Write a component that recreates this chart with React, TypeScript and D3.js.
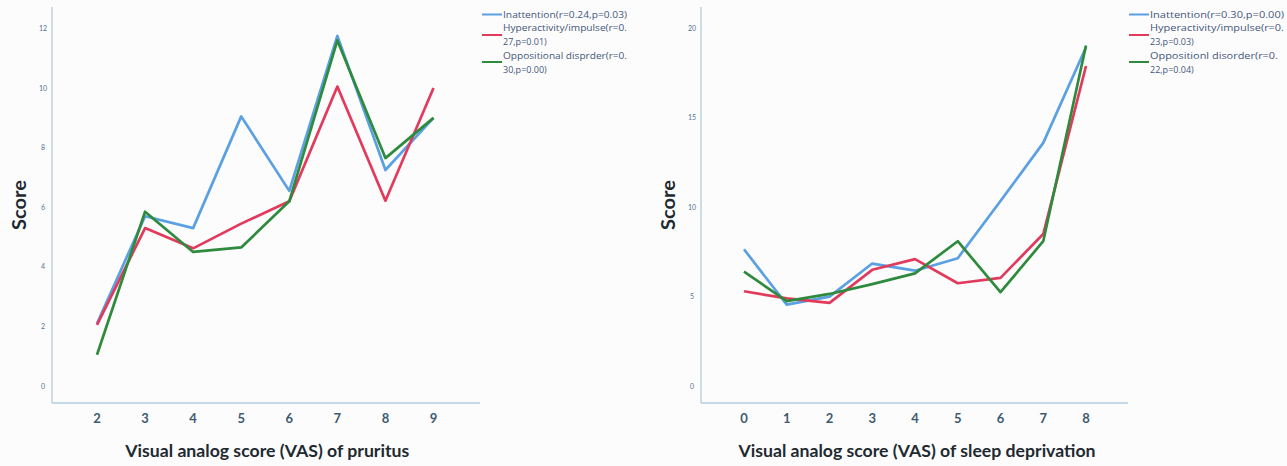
import React from "react";
import * as d3 from "d3";

const seriesNames = ["Inattention", "Hyperactivity/impulse", "Oppositional disorder"];
const colors = ["#5aa0e2", "#e23a5c", "#2e8a3c"];

// Left chart: pruritus
const pruritusX = [2, 3, 4, 5, 6, 7, 8, 9];
const pruritusInattention = [2.1, 5.7, 5.3, 9.05, 6.55, 11.75, 7.25, 9.0];
const pruritusHyper = [2.05, 5.3, 4.62, 5.45, 6.2, 10.05, 6.22, 10.0];
const pruritusOpp = [1.05, 5.85, 4.5, 4.65, 6.2, 11.6, 7.65, 9.0];
const pruritusYTicks = [0, 2, 4, 6, 8, 10, 12];
const pruritusLegend = [
  ["Inattention(r=0.24,p=0.03)"],
  ["Hyperactivity/impulse(r=0.", "27,p=0.01)"],
  ["Oppositional disprder(r=0.", "30,p=0.00)"],
];

// Right chart: sleep deprivation
const sleepX = [0, 1, 2, 3, 4, 5, 6, 7, 8];
const sleepInattention = [7.65, 4.55, 5.0, 6.85, 6.45, 7.15, 10.35, 13.6, 18.95];
const sleepHyper = [5.3, 4.9, 4.65, 6.5, 7.1, 5.75, 6.05, 8.5, 17.9];
const sleepOpp = [6.4, 4.75, 5.15, 5.7, 6.3, 8.1, 5.25, 8.1, 19.05];
const sleepYTicks = [0, 5, 10, 15, 20];
const sleepLegend = [
  ["Inattention(r=0.30,p=0.00)"],
  ["Hyperactivity/impulse(r=0.", "23,p=0.03)"],
  ["Oppositionl disorder(r=0.", "22,p=0.04)"],
];

type PanelProps = {
  xs: number[];
  series: number[][];
  yTicks: number[];
  yMax: number;
  axisX: number;
  axisRight: number;
  xFirst: number;
  xLast: number;
  xLabel: string;
  xLabelWidth: number;
  legend: string[][];
  legendX: number;
  legendWidths: number[];
};

const TOP = 7;
const BASE = 403;
const Y0 = 386;

function Panel(p: PanelProps) {
  const x = d3.scaleLinear().domain([p.xs[0], p.xs[p.xs.length - 1]]).range([p.xFirst, p.xLast]);
  const y = d3.scaleLinear().domain([0, p.yMax]).range([Y0, 28.5]);
  const line = d3
    .line<number>()
    .x((_, i) => x(p.xs[i]))
    .y((d) => y(d));
  const labelCx = (p.xFirst + p.xLast) / 2;
  const lineY = [14.5, 35, 62];
  const textY = [[18], [31, 45], [59, 73]];
  return (
    <g>
      <line x1={p.axisX} x2={p.axisX} y1={TOP} y2={BASE} stroke="#b3cddc" strokeWidth={1.3} />
      <line x1={p.axisX} x2={p.axisRight} y1={BASE} y2={BASE} stroke="#b3cddc" strokeWidth={1.3} />
      {p.yTicks.map((t) => (
        <text
          key={t}
          x={p.axisX - 9}
          y={y(t) + 2.5}
          textAnchor="middle"
          fontSize={7}
          fontFamily="Lato, 'Open Sans', sans-serif"
          fill="#4f7394"
        >
          {t}
        </text>
      ))}
      {p.xs.map((t) => (
        <text
          key={t}
          x={x(t)}
          y={BASE + 19.5}
          textAnchor="middle"
          fontSize={13}
          fontWeight="bold"
          fontFamily="Lato, 'Open Sans', sans-serif"
          fill="#3d5a70"
        >
          {t}
        </text>
      ))}
      <text
        x={labelCx + 2}
        y={457}
        textAnchor="middle"
        fontSize={17}
        fontWeight="bold"
        fontFamily="Lato, 'Open Sans', sans-serif"
        fill="#1f2a30"
        textLength={p.xLabelWidth}
        lengthAdjust="spacingAndGlyphs"
      >
        {p.xLabel}
      </text>
      <text
        transform={`translate(${p.axisX - 26},205) rotate(-90)`}
        textAnchor="middle"
        fontSize={18}
        fontWeight="bold"
        fontFamily="Lato, 'Open Sans', sans-serif"
        fill="#1f2a30"
        textLength={50}
        lengthAdjust="spacingAndGlyphs"
      >
        Score
      </text>
      {p.series.map((s, i) => (
        <path
          key={i}
          d={line(s) || ""}
          fill="none"
          stroke={colors[i]}
          strokeWidth={2.7}
          strokeLinejoin="round"
        />
      ))}
      {p.legend.map((rows, i) => (
        <g key={i}>
          <line
            x1={p.legendX}
            x2={p.legendX + 20}
            y1={lineY[i]}
            y2={lineY[i]}
            stroke={colors[i]}
            strokeWidth={2}
          />
          {rows.map((r, j) => (
            <text
              key={j}
              x={p.legendX + 21}
              y={textY[i][j]}
              fontSize={9}
              fontFamily="'Open Sans', Lato, sans-serif"
              fill="#45577a"
              textLength={j === 0 ? p.legendWidths[i] : undefined}
              lengthAdjust="spacingAndGlyphs"
            >
              {r}
            </text>
          ))}
        </g>
      ))}
    </g>
  );
}

export default function App() {
  return (
    <svg
      width={1287}
      height={466}
      style={{ position: "absolute", left: 0, top: 0, background: "#fcfcfd" }}
    >
      <rect width={1287} height={466} fill="#fcfcfd" />
      <Panel
        xs={pruritusX}
        series={[pruritusInattention, pruritusHyper, pruritusOpp]}
        yTicks={pruritusYTicks}
        yMax={12}
        axisX={52}
        axisRight={480}
        xFirst={97}
        xLast={433.5}
        xLabel="Visual analog score (VAS) of pruritus"
        xLabelWidth={284}
        legend={pruritusLegend}
        legendX={482}
        legendWidths={[124, 124, 124]}
      />
      <Panel
        xs={sleepX}
        series={[sleepInattention, sleepHyper, sleepOpp]}
        yTicks={sleepYTicks}
        yMax={20}
        axisX={701}
        axisRight={1128}
        xFirst={744}
        xLast={1086}
        xLabel="Visual analog score (VAS) of sleep deprivation"
        xLabelWidth={357}
        legend={sleepLegend}
        legendX={1129}
        legendWidths={[134, 134, 128]}
      />
    </svg>
  );
}
